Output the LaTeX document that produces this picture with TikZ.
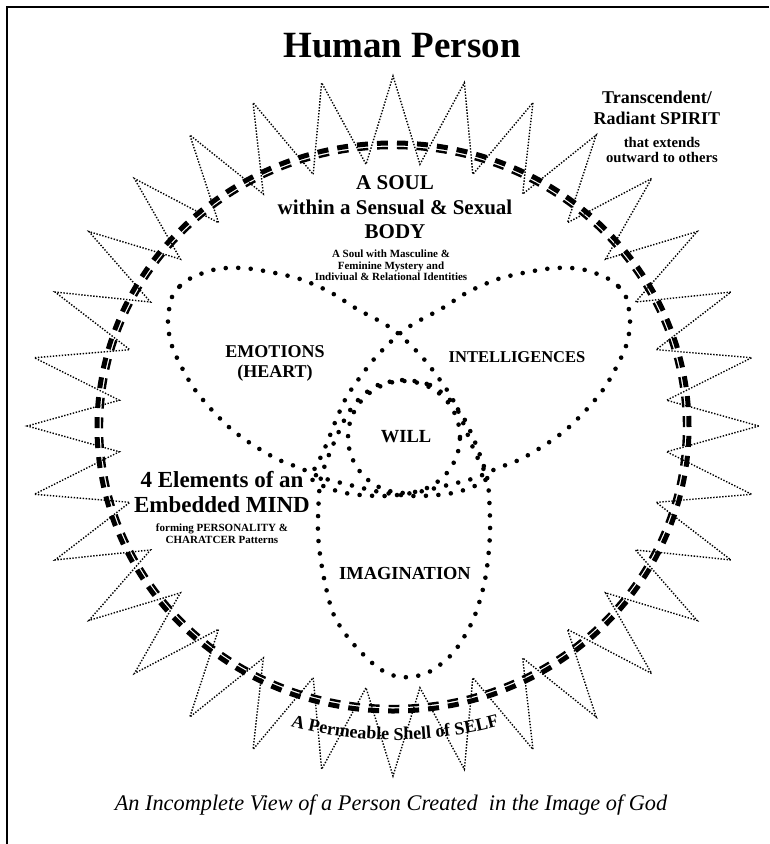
\documentclass[tikz,border=0pt]{standalone}
\usepackage{fontspec}
\setmainfont{Liberation Serif}
\usetikzlibrary{decorations.text}

\tikzset{
  frameline/.style={line width=2.4pt},
  spikeline/.style={line width=1.4pt,dash pattern=on 1.4pt off 1.6pt},
  shellthick/.style={line width=5pt,dash pattern=on 11pt off 9.03pt},
  shellthin/.style={line width=2.4pt,dash pattern=on 10.82pt off 8.87pt},
  mindline/.style={line width=4.6pt,line cap=round,dash pattern=on 0pt off 12.5pt},
  lbl/.style 2 args={align=center,inner sep=0pt,font=\fontsize{#1}{#2}\selectfont\bfseries},
}

\begin{document}
\begin{tikzpicture}[x=1pt,y=-1pt]
    \useasboundingbox (0,0) rectangle (769,844);
    \draw[frameline] (769,7) -- (7,7) -- (7,844); % frame

    % radiant spirit: star of 32 spikes
    \draw[spikeline] (758.75,426)
        \foreach \k in {0,...,31}{
            -- ({393+275*cos(11.25*\k+5.625)},{426-263*sin(11.25*\k+5.625)})
            -- ({393+365.75*cos(11.25*\k+11.25)},{426-350*sin(11.25*\k+11.25)})
        } -- cycle;

    % shell of self
    \draw[shellthick] (393,427) ellipse[x radius=296pt,y radius=284pt];
    \draw[shellthin] (393,427) ellipse[x radius=291pt,y radius=279pt];

    % four elements of the mind
    \draw[mindline] plot[smooth cycle] coordinates {
        (172,297) (180,286) (193,277) (217,269) (243,268) (270,272) (300,279)
        (330,292) (357,309) (383,323) (400,335) (423,358) (440,380) (452,398)
        (462,420) (471,443) (480,463) (487,478) (470,488) (447,494) (413,496)
        (380,492) (350,485) (323,478) (300,468) (277,459) (250,443) (230,428)
        (210,408) (193,387) (180,364) (172,346) (168,327) (169,310)};
    \draw[mindline] plot[smooth cycle] coordinates {
        (626,297) (618,286) (605,277) (581,269) (555,268) (528,272) (498,279)
        (468,292) (441,309) (415,323) (398,335) (375,358) (358,380) (346,398)
        (336,420) (327,443) (318,463) (311,478) (328,488) (351,494) (385,496)
        (418,492) (448,485) (475,478) (498,468) (521,459) (548,443) (568,428)
        (588,408) (605,387) (618,364) (626,346) (630,327) (629,310)};
    \draw[mindline] plot[smooth cycle] coordinates {
        (404,380) (430,385) (448,398) (462,415) (472,435) (481,458) (488,483)
        (490,533) (485,580) (473,620) (453,653) (427,673) (400,677) (377,667)
        (350,640) (333,613) (323,573) (318,533) (320,483) (327,460) (336,438)
        (347,415) (360,398) (378,385)};
    \draw[mindline] (404,437) circle[radius=56pt];

    \node[lbl={37}{40}] (title) at (402,46) {Human Person};
    \node[lbl={18}{21}] (spirit) at (657,107.5) {Transcendent/\\Radiant SPIRIT};
    \node[lbl={14.7}{15}] (others) at (662,150) {that extends\\outward to others};
    \node[lbl={21}{24.5}] (soul) at (395,207.5) {A SOUL\\within a Sensual \& Sexual\\BODY};
    \node[lbl={11}{11.5}] (identity) at (391,265.5) {A Soul with Masculine \&\\Feminine Mystery and\\Indiviual \& Relational Identities};
    \node[lbl={18}{20}] (emotions) at (275,363) {EMOTIONS\\(HEART)};
    \node[lbl={16.5}{18}] (intel) at (517,357) {INTELLIGENCES};
    \node[lbl={18.5}{20}] (will) at (406,437) {WILL};
    \node[lbl={18.4}{20}] (imagin) at (405,573) {IMAGINATION};
    \node[lbl={23}{25}] (mind) at (222,492.5) {4 Elements of an\\Embedded MIND};
    \node[lbl={11}{12}] (pattern) at (222,534) {forming PERSONALITY \&\\CHARATCER Patterns};
    \path[decorate,decoration={text along path,text align=center,
        text={|\fontsize{18}{18}\selectfont\bfseries|A Permeable Shell of SELF}}]
        ([shift={(240:400pt)}]395,340) arc[start angle=240,end angle=300,radius=400pt];
    \node[inner sep=0pt,font=\fontsize{22.3}{24}\selectfont\itshape] (caption) at (391,805)
        {An Incomplete View of a Person Created~ in the Image of God};
\end{tikzpicture}
\end{document}
